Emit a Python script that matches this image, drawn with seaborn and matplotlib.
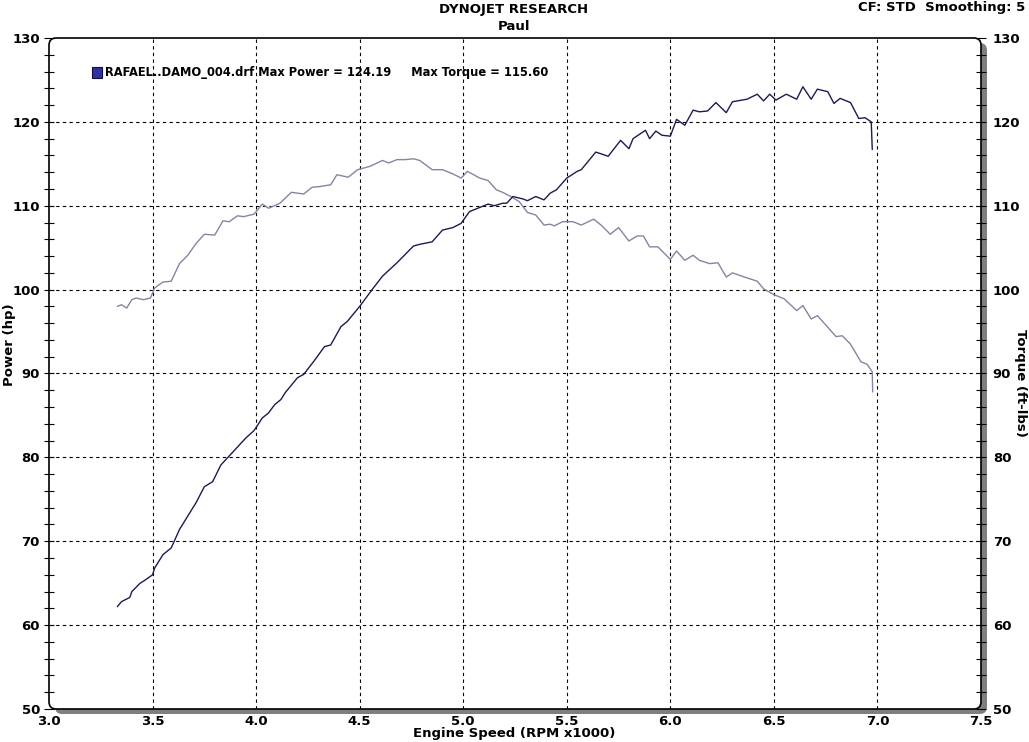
import matplotlib
matplotlib.use("Agg")
import matplotlib.pyplot as plt
from matplotlib.patches import FancyBboxPatch, Rectangle
from matplotlib.ticker import MultipleLocator, FormatStrFormatter
import seaborn as sns
import pandas as pd

# Power curve (hp) read from the dyno sheet
power_rpm = [3.33, 3.35, 3.39, 3.40, 3.44, 3.46, 3.50, 3.51, 3.55, 3.59,
             3.63, 3.67, 3.71, 3.75, 3.79, 3.83, 3.86, 3.89, 3.95, 3.99,
             4.03, 4.06, 4.09, 4.12, 4.14, 4.17, 4.20, 4.23, 4.28, 4.33,
             4.36, 4.41, 4.44, 4.50, 4.56, 4.61, 4.68, 4.72, 4.76, 4.79,
             4.85, 4.90, 4.95, 4.99, 5.03, 5.06, 5.12, 5.15, 5.19, 5.21,
             5.24, 5.29, 5.31, 5.35, 5.39, 5.42, 5.45, 5.50, 5.55, 5.57,
             5.64, 5.70, 5.76, 5.80, 5.82, 5.88, 5.90, 5.93, 5.96, 6.00,
             6.03, 6.07, 6.11, 6.14, 6.18, 6.22, 6.27, 6.30, 6.37, 6.42,
             6.45, 6.48, 6.51, 6.56, 6.61, 6.64, 6.68, 6.71, 6.76, 6.79,
             6.82, 6.87, 6.91, 6.94, 6.97, 6.975]
power_hp = [62.2, 62.8, 63.3, 64.0, 65.0, 65.3, 66.0, 66.8, 68.4, 69.2,
            71.4, 73.0, 74.6, 76.5, 77.1, 79.1, 79.9, 80.7, 82.3, 83.2,
            84.7, 85.3, 86.3, 86.9, 87.7, 88.6, 89.5, 89.9, 91.5, 93.2,
            93.4, 95.6, 96.2, 98.0, 100.0, 101.6, 103.2, 104.2, 105.2, 105.4,
            105.7, 107.1, 107.4, 107.9, 109.3, 109.6, 110.2, 110.0, 110.3, 110.3,
            111.1, 110.8, 110.6, 111.1, 110.7, 111.5, 111.9, 113.3, 114.1, 114.3,
            116.4, 115.9, 117.8, 116.8, 118.0, 119.0, 118.0, 118.9, 118.4, 118.3,
            120.3, 119.6, 121.4, 121.2, 121.3, 122.3, 121.1, 122.4, 122.7, 123.3,
            122.5, 123.3, 122.6, 123.3, 122.7, 124.19, 122.7, 123.9, 123.6, 122.2,
            122.8, 122.3, 120.4, 120.5, 120.0, 116.7]

# Torque curve (ft-lbs)
torque_rpm = [3.33, 3.35, 3.375, 3.40, 3.42, 3.455, 3.49, 3.51, 3.55, 3.59,
              3.63, 3.67, 3.71, 3.75, 3.80, 3.84, 3.87, 3.91, 3.94, 3.99,
              4.03, 4.06, 4.115, 4.17, 4.23, 4.27, 4.31, 4.36, 4.39, 4.445,
              4.49, 4.55, 4.61, 4.64, 4.68, 4.72, 4.76, 4.79, 4.85, 4.90,
              4.95, 4.99, 5.02, 5.08, 5.12, 5.16, 5.19, 5.23, 5.27, 5.31,
              5.35, 5.39, 5.42, 5.44, 5.48, 5.53, 5.57, 5.63, 5.67, 5.71,
              5.75, 5.80, 5.84, 5.87, 5.90, 5.94, 6.00, 6.03, 6.07, 6.11,
              6.14, 6.19, 6.23, 6.27, 6.30, 6.37, 6.42, 6.45, 6.50, 6.55,
              6.61, 6.64, 6.68, 6.71, 6.75, 6.80, 6.83, 6.87, 6.92, 6.95,
              6.975, 6.977]
torque_ftlb = [98.0, 98.2, 97.8, 98.8, 99.0, 98.8, 99.0, 100.2, 100.9, 101.0,
               103.1, 104.1, 105.5, 106.6, 106.5, 108.2, 108.1, 108.8, 108.7, 109.0,
               110.2, 109.7, 110.3, 111.6, 111.4, 112.2, 112.3, 112.5, 113.7, 113.4,
               114.3, 114.7, 115.4, 115.1, 115.5, 115.5, 115.6, 115.4, 114.3, 114.3,
               113.8, 113.3, 114.1, 113.3, 113.0, 111.9, 111.6, 111.1, 110.5, 109.2,
               108.9, 107.7, 107.8, 107.6, 108.1, 108.1, 107.7, 108.4, 107.6, 106.6,
               107.4, 105.8, 106.4, 106.4, 105.1, 105.1, 103.6, 104.6, 103.5, 104.1,
               103.5, 103.1, 103.2, 101.5, 102.0, 101.4, 101.0, 100.1, 99.4, 98.9,
               97.5, 98.1, 96.5, 96.9, 95.8, 94.4, 94.5, 93.5, 91.4, 91.1,
               90.2, 87.8]

legend_text = "RAFAEL..DAMO_004.drf Max Power = 124.19     Max Torque = 115.60"

power_df = pd.DataFrame({"rpm": power_rpm, "hp": power_hp})
torque_df = pd.DataFrame({"rpm": torque_rpm, "tq": torque_ftlb})

sns.set_style("white")
plt.rcParams['font.family'] = ['DejaVu Sans']
plt.rcParams['text.color'] = 'black'
plt.rcParams['xtick.color'] = 'black'
plt.rcParams['ytick.color'] = 'black'
plt.rcParams['xtick.labelcolor'] = 'black'
plt.rcParams['ytick.labelcolor'] = 'black'
narrow = ['Liberation Sans Narrow', 'DejaVu Sans']

fig = plt.figure(figsize=(10.29, 7.42), dpi=100, facecolor='white')
L, R, B, T = 49 / 1029, 981 / 1029, 1 - 709 / 742, 1 - 38 / 742
ax = fig.add_axes([L, B, R - L, T - B])
ax.patch.set_visible(False)

# rounded frame with grey drop shadow
shadow = FancyBboxPatch((L + 6 / 1029, B - 5 / 742), R - L, T - B,
                        boxstyle="round,pad=0,rounding_size=0.007",
                        mutation_aspect=1029 / 742,
                        transform=fig.transFigure, facecolor='#7f7f7f',
                        edgecolor='none', zorder=-3)
frame = FancyBboxPatch((L, B), R - L, T - B,
                       boxstyle="round,pad=0,rounding_size=0.007",
                       mutation_aspect=1029 / 742,
                       transform=fig.transFigure, facecolor='white',
                       edgecolor='black', linewidth=1.2, zorder=-2)
fig.patches.extend([shadow, frame])

sns.lineplot(data=torque_df, x="rpm", y="tq", ax=ax, color='#8585a3',
             linewidth=1.0, sort=False)
sns.lineplot(data=power_df, x="rpm", y="hp", ax=ax, color='#1c1c50',
             linewidth=1.0, sort=False)

ax.set_xlim(3.0, 7.5)
ax.set_ylim(50, 130)
for s in ax.spines.values():
    s.set_visible(False)
ax.set_xlabel("")
ax.set_ylabel("")

ax.xaxis.set_major_locator(MultipleLocator(0.5))
ax.xaxis.set_minor_locator(MultipleLocator(0.1))
ax.xaxis.set_major_formatter(FormatStrFormatter('%.1f'))
ax.yaxis.set_major_locator(MultipleLocator(10))
ax.yaxis.set_minor_locator(MultipleLocator(2))
ax.tick_params(axis='both', which='both', direction='inout', color='black',
               width=0.8, labelsize=9.5)
ax.tick_params(axis='x', which='both', length=6, pad=1)
ax.tick_params(axis='y', which='major', length=7, pad=3)
ax.tick_params(axis='y', which='minor', length=7)
for lab in ax.get_xticklabels() + ax.get_yticklabels():
    lab.set_fontweight('bold')

for x in [3.5, 4.0, 4.5, 5.0, 5.5, 6.0, 6.5, 7.0]:
    ax.axvline(x, color='black', linewidth=0.8, linestyle=(0, (3, 3)), zorder=0)
for y in [60, 70, 80, 90, 100, 110, 120]:
    ax.axhline(y, color='black', linewidth=0.8, linestyle=(0, (3, 3)), zorder=0)

ax2 = ax.twinx()
ax2.patch.set_visible(False)
ax2.set_ylim(50, 130)
for s in ax2.spines.values():
    s.set_visible(False)
ax2.yaxis.set_major_locator(MultipleLocator(10))
ax2.yaxis.set_minor_locator(MultipleLocator(2))
ax2.tick_params(axis='y', which='both', direction='inout', length=7,
                width=0.8, labelsize=9.5, pad=5, color='black')
for lab in ax2.get_yticklabels():
    lab.set_fontweight('bold')

# legend line
ax.add_patch(Rectangle((3.21, 125.2), 0.045, 1.3, facecolor='#3030a0',
                       edgecolor='#101040', linewidth=0.8, zorder=5))
ax.text(3.268, 125.85, legend_text, fontsize=8.3, fontweight='bold',
        va='center', ha='left', color='black')

fig.text(514 / 1029, 1 - 10 / 742, "DYNOJET RESEARCH", ha='center', va='center',
         fontsize=9.5, fontweight='bold', family=narrow)
fig.text(514 / 1029, 1 - 26 / 742, "Paul", ha='center', va='center',
         fontsize=9.5, fontweight='bold', family=narrow)
fig.text(1025 / 1029, 1 - 8 / 742, "CF: STD  Smoothing: 5", ha='right',
         va='center', fontsize=9.5, fontweight='bold', family=narrow)
fig.text(514 / 1029, 1 - 734 / 742, "Engine Speed (RPM x1000)", ha='center',
         va='center', fontsize=9.5, fontweight='bold', family=narrow)
fig.text(10 / 1029, 1 - 345 / 742, "Power (hp)", ha='center', va='center',
         rotation=90, fontsize=9.5, fontweight='bold', family=narrow)
fig.text(1020 / 1029, 1 - 383 / 742, "Torque (ft-lbs)", ha='center',
         va='center', rotation=270, fontsize=9.5, fontweight='bold', family=narrow)

fig.savefig("out.png", dpi=100, facecolor='white')
